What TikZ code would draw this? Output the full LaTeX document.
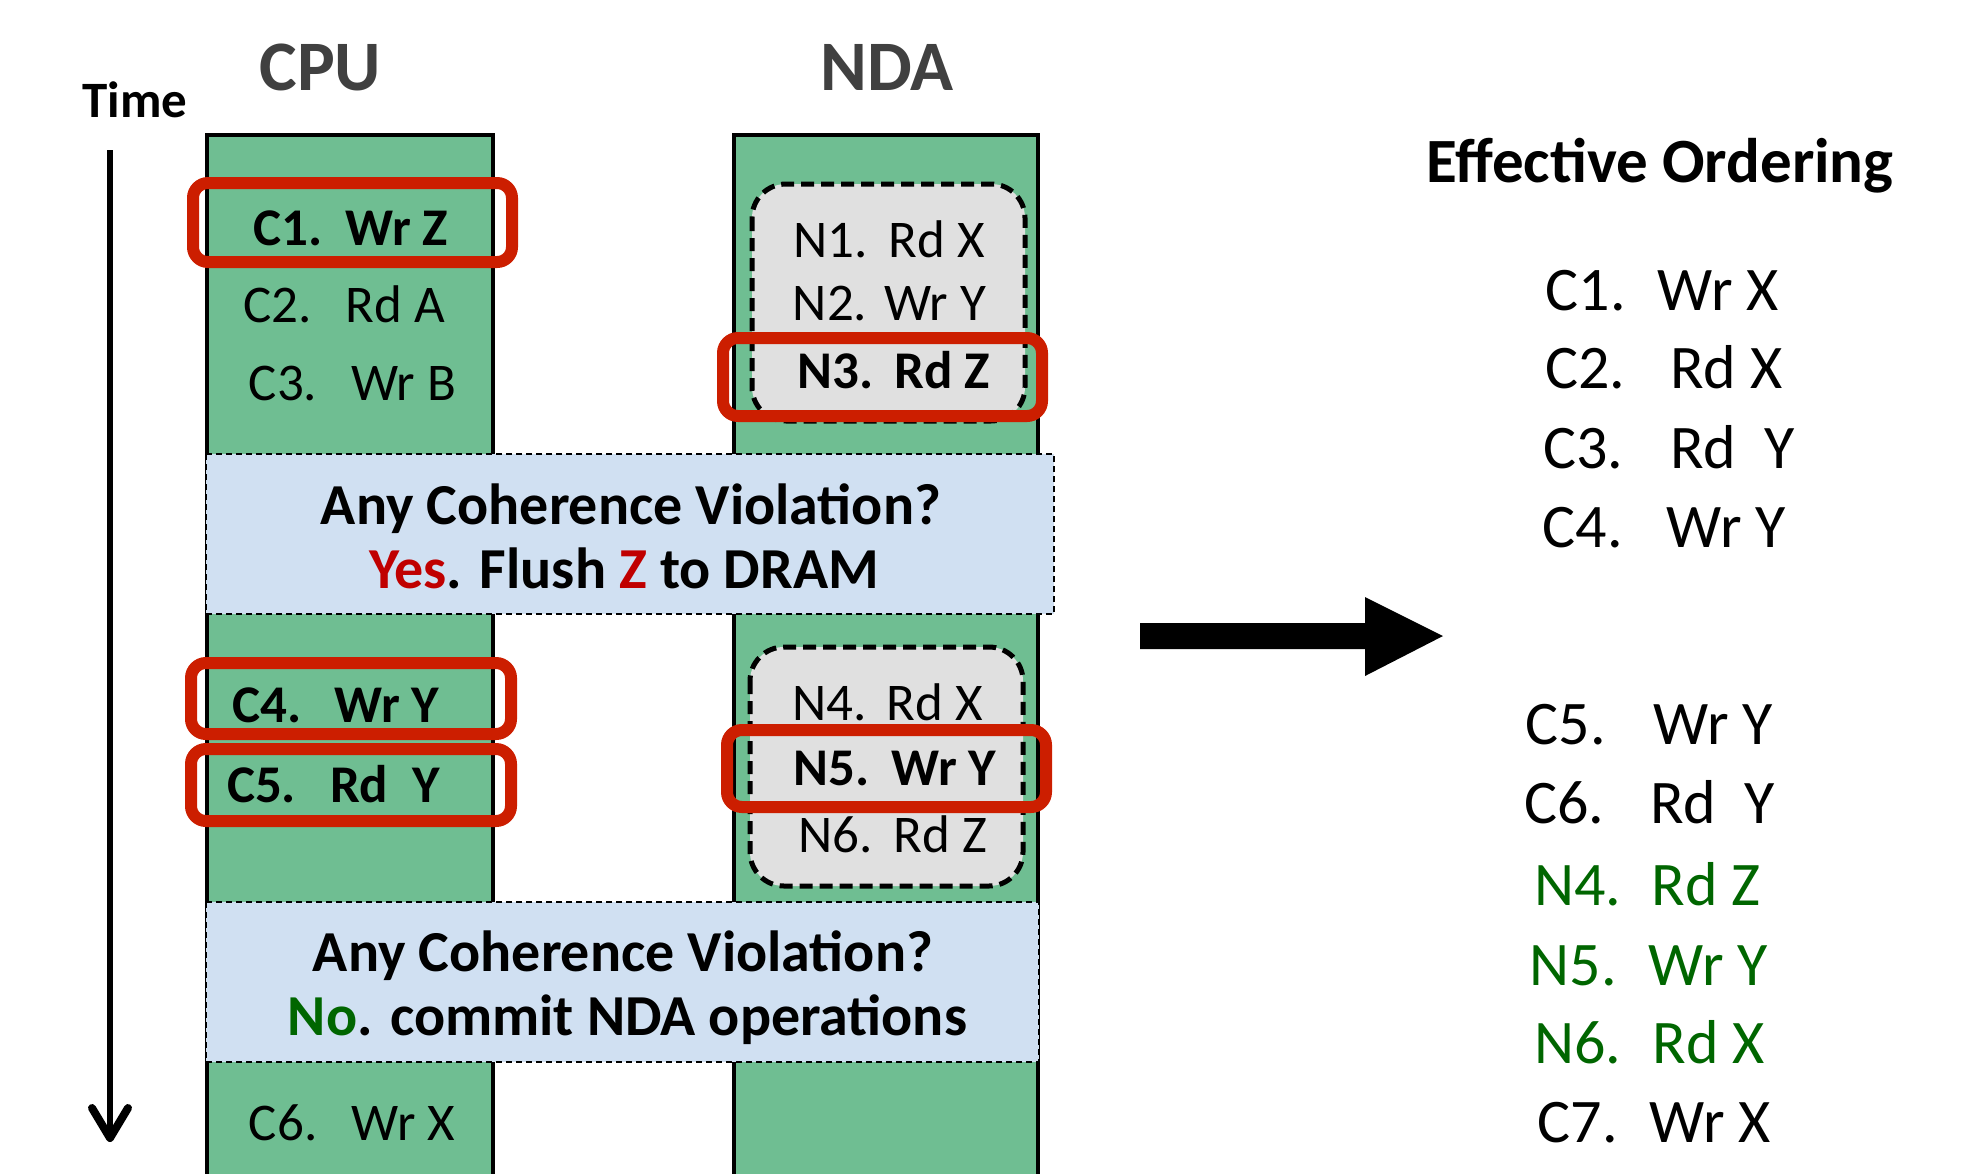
\documentclass[tikz,border=0pt]{standalone}
\usepackage{fontspec}
\setmainfont{Carlito}
\usetikzlibrary{arrows.meta}

\definecolor{colgreen}{RGB}{111,190,146}
\definecolor{boxblue}{RGB}{208,224,242}
\definecolor{grpgray}{RGB}{224,224,224}
\definecolor{hlred}{RGB}{204,30,0}
\definecolor{txtred}{RGB}{192,0,0}
\definecolor{txtgreen}{RGB}{0,102,0}
\definecolor{hdrgray}{RGB}{64,64,64}

\newcommand\fsOps{\fontsize{53}{60}\selectfont}
\newcommand\fsList{\fontsize{62}{70}\selectfont}
\newcommand\fsMsg{\fontsize{58}{66}\selectfont\bfseries}
\newcommand\fsUnit{\fontsize{71}{80}\selectfont\bfseries}

\begin{document}
\begin{tikzpicture}[x=1pt,y=-1pt,
  colbody/.style={fill=colgreen},
  coledge/.style={draw=black,line width=4pt,line join=miter},
  msgbox/.style={fill=boxblue,draw=black,line width=1.8pt,dash pattern=on 6pt off 4pt},
  grpbox/.style={fill=grpgray,draw=black,line width=5pt,dash pattern=on 13pt off 7pt,rounded corners=34pt},
  hlbox/.style={draw=hlred,line width=12pt,rounded corners=15pt},
  optxt/.style={anchor=base,inner sep=0pt,font=\fsOps},
  opbold/.style={optxt,font=\fsOps\bfseries},
  listtxt/.style={anchor=base,inner sep=0pt,font=\fsList},
  msgtxt/.style={anchor=base,inner sep=0pt,font=\fsMsg},
  unittxt/.style={anchor=base,inner sep=0pt,font=\fsUnit,text=hdrgray},
  timearrow/.style={line width=6pt,-{Straight Barb[length=30pt,width=36pt,round,line width=8pt]}},
  bigarrow/.style={fill=black}
]
\useasboundingbox (0,0) rectangle (1970,1173);

% unit columns (open at the bottom edge)
\fill[colbody] (207,135) rectangle (493,1180);
\fill[colbody] (734,135) rectangle (1038,1180);
\draw[coledge] (207,1180) -- (207,135) -- (493,135) -- (493,1180);
\draw[coledge] (734,1180) -- (734,135) -- (1038,135) -- (1038,1180);

% coherence check bands
\draw[msgbox] (206,454) rectangle (1054,614);
\draw[msgbox] (206,902) rectangle (1039,1062);

% speculative NDA groups
\draw[grpbox] (752,184) rectangle (1025,421);
\draw[grpbox] (750,647) rectangle (1023,886);

% headers
\node[anchor=base,inner sep=0pt,font=\fontsize{51}{58}\selectfont\bfseries] (time) at (135,117) {Time};
\node[unittxt] (cpu) at (320.5,90) {CPU};
\node[unittxt] (nda) at (887,90) {NDA};

% time axis
\coordinate (t0) at (110,150);
\coordinate (t1) at (110,1142);
\draw[timearrow] (t0) -- (t1);

% CPU operations
\node[opbold] (c1) at (351,245) {C1.\hspace{23pt}Wr Z};
\node[optxt]  (c2) at (344,322) {C2.\hspace{34pt}Rd A};
\node[optxt]  (c3) at (352.5,400) {C3.\hspace{34pt}Wr B};
\node[opbold] (c4) at (336,722) {C4.\hspace{33pt}Wr Y};
\node[opbold] (c5) at (333.5,802) {C5.\hspace{34pt}Rd\hspace{24pt}Y};
\node[optxt]  (c6) at (352,1140) {C6.\hspace{34pt}Wr X};

% NDA operations
\node[optxt]  (n1) at (889,257) {N1.\hspace{21pt}Rd X};
\node[optxt]  (n2) at (889.5,320) {N2.\hspace{17pt}Wr Y};
\node[opbold] (n3) at (893.5,388) {N3.\hspace{21pt}Rd Z};
\node[optxt]  (n4) at (887.5,720) {N4.\hspace{20pt}Rd X};
\node[opbold] (n5) at (895,785) {N5.\hspace{22pt}Wr Y};
\node[optxt]  (n6) at (892.5,852) {N6.\hspace{21pt}Rd Z};

% check messages
\node[msgtxt] (m1) at (631,524) {Any Coherence Violation?};
\node[msgtxt] (m2) at (624,588) {\textcolor{txtred}{Yes}. Flush \textcolor{txtred}{Z} to DRAM};
\node[msgtxt] (m3) at (623,971) {Any Coherence Violation?};
\node[msgtxt] (m4) at (627.5,1035) {\textcolor{txtgreen}{No}. commit NDA operations};

% conflicting accesses
\draw[hlbox] (193,183) rectangle (512,262);
\draw[hlbox] (723,338) rectangle (1042,416);
\draw[hlbox] (191,663) rectangle (511,734);
\draw[hlbox] (191,749) rectangle (511,821);
\draw[hlbox] (727,730) rectangle (1046,807);

% transformation arrow
\coordinate (a0) at (1140,636);
\coordinate (a1) at (1443,636);
\fill[bigarrow] (a0) ++(0,-13) -- ++(225,0) -- ++(0,-26) -- (a1)
  -- (1365,676) -- (1365,649) -- (1140,649) -- cycle;

% resulting order
\node[anchor=base,inner sep=0pt,font=\fontsize{63}{70}\selectfont\bfseries] (eo) at (1660,182) {Effective Ordering};
\node[listtxt] (r1) at (1662.5,310) {C1.\hspace{32pt}Wr X};
\node[listtxt] (r2) at (1664,388) {C2.\hspace{45pt}Rd X};
\node[listtxt] (r3) at (1669,468) {C3.\hspace{47pt}Rd\hspace{28pt}Y};
\node[listtxt] (r4) at (1664.5,547) {C4.\hspace{44pt}Wr Y};
\node[listtxt] (r5) at (1649.5,744) {C5.\hspace{48pt}Wr Y};
\node[listtxt] (r6) at (1649.5,823) {C6.\hspace{46pt}Rd\hspace{28pt}Y};
\node[listtxt,text=txtgreen] (r7) at (1647.5,905) {N4.\hspace{30pt}Rd Z};
\node[listtxt,text=txtgreen] (r8) at (1649,985) {N5.\hspace{32pt}Wr Y};
\node[listtxt,text=txtgreen] (r9) at (1649.5,1063) {N6.\hspace{31pt}Rd X};
\node[listtxt] (r10) at (1654.5,1142) {C7.\hspace{32pt}Wr X};
\end{tikzpicture}
\end{document}
